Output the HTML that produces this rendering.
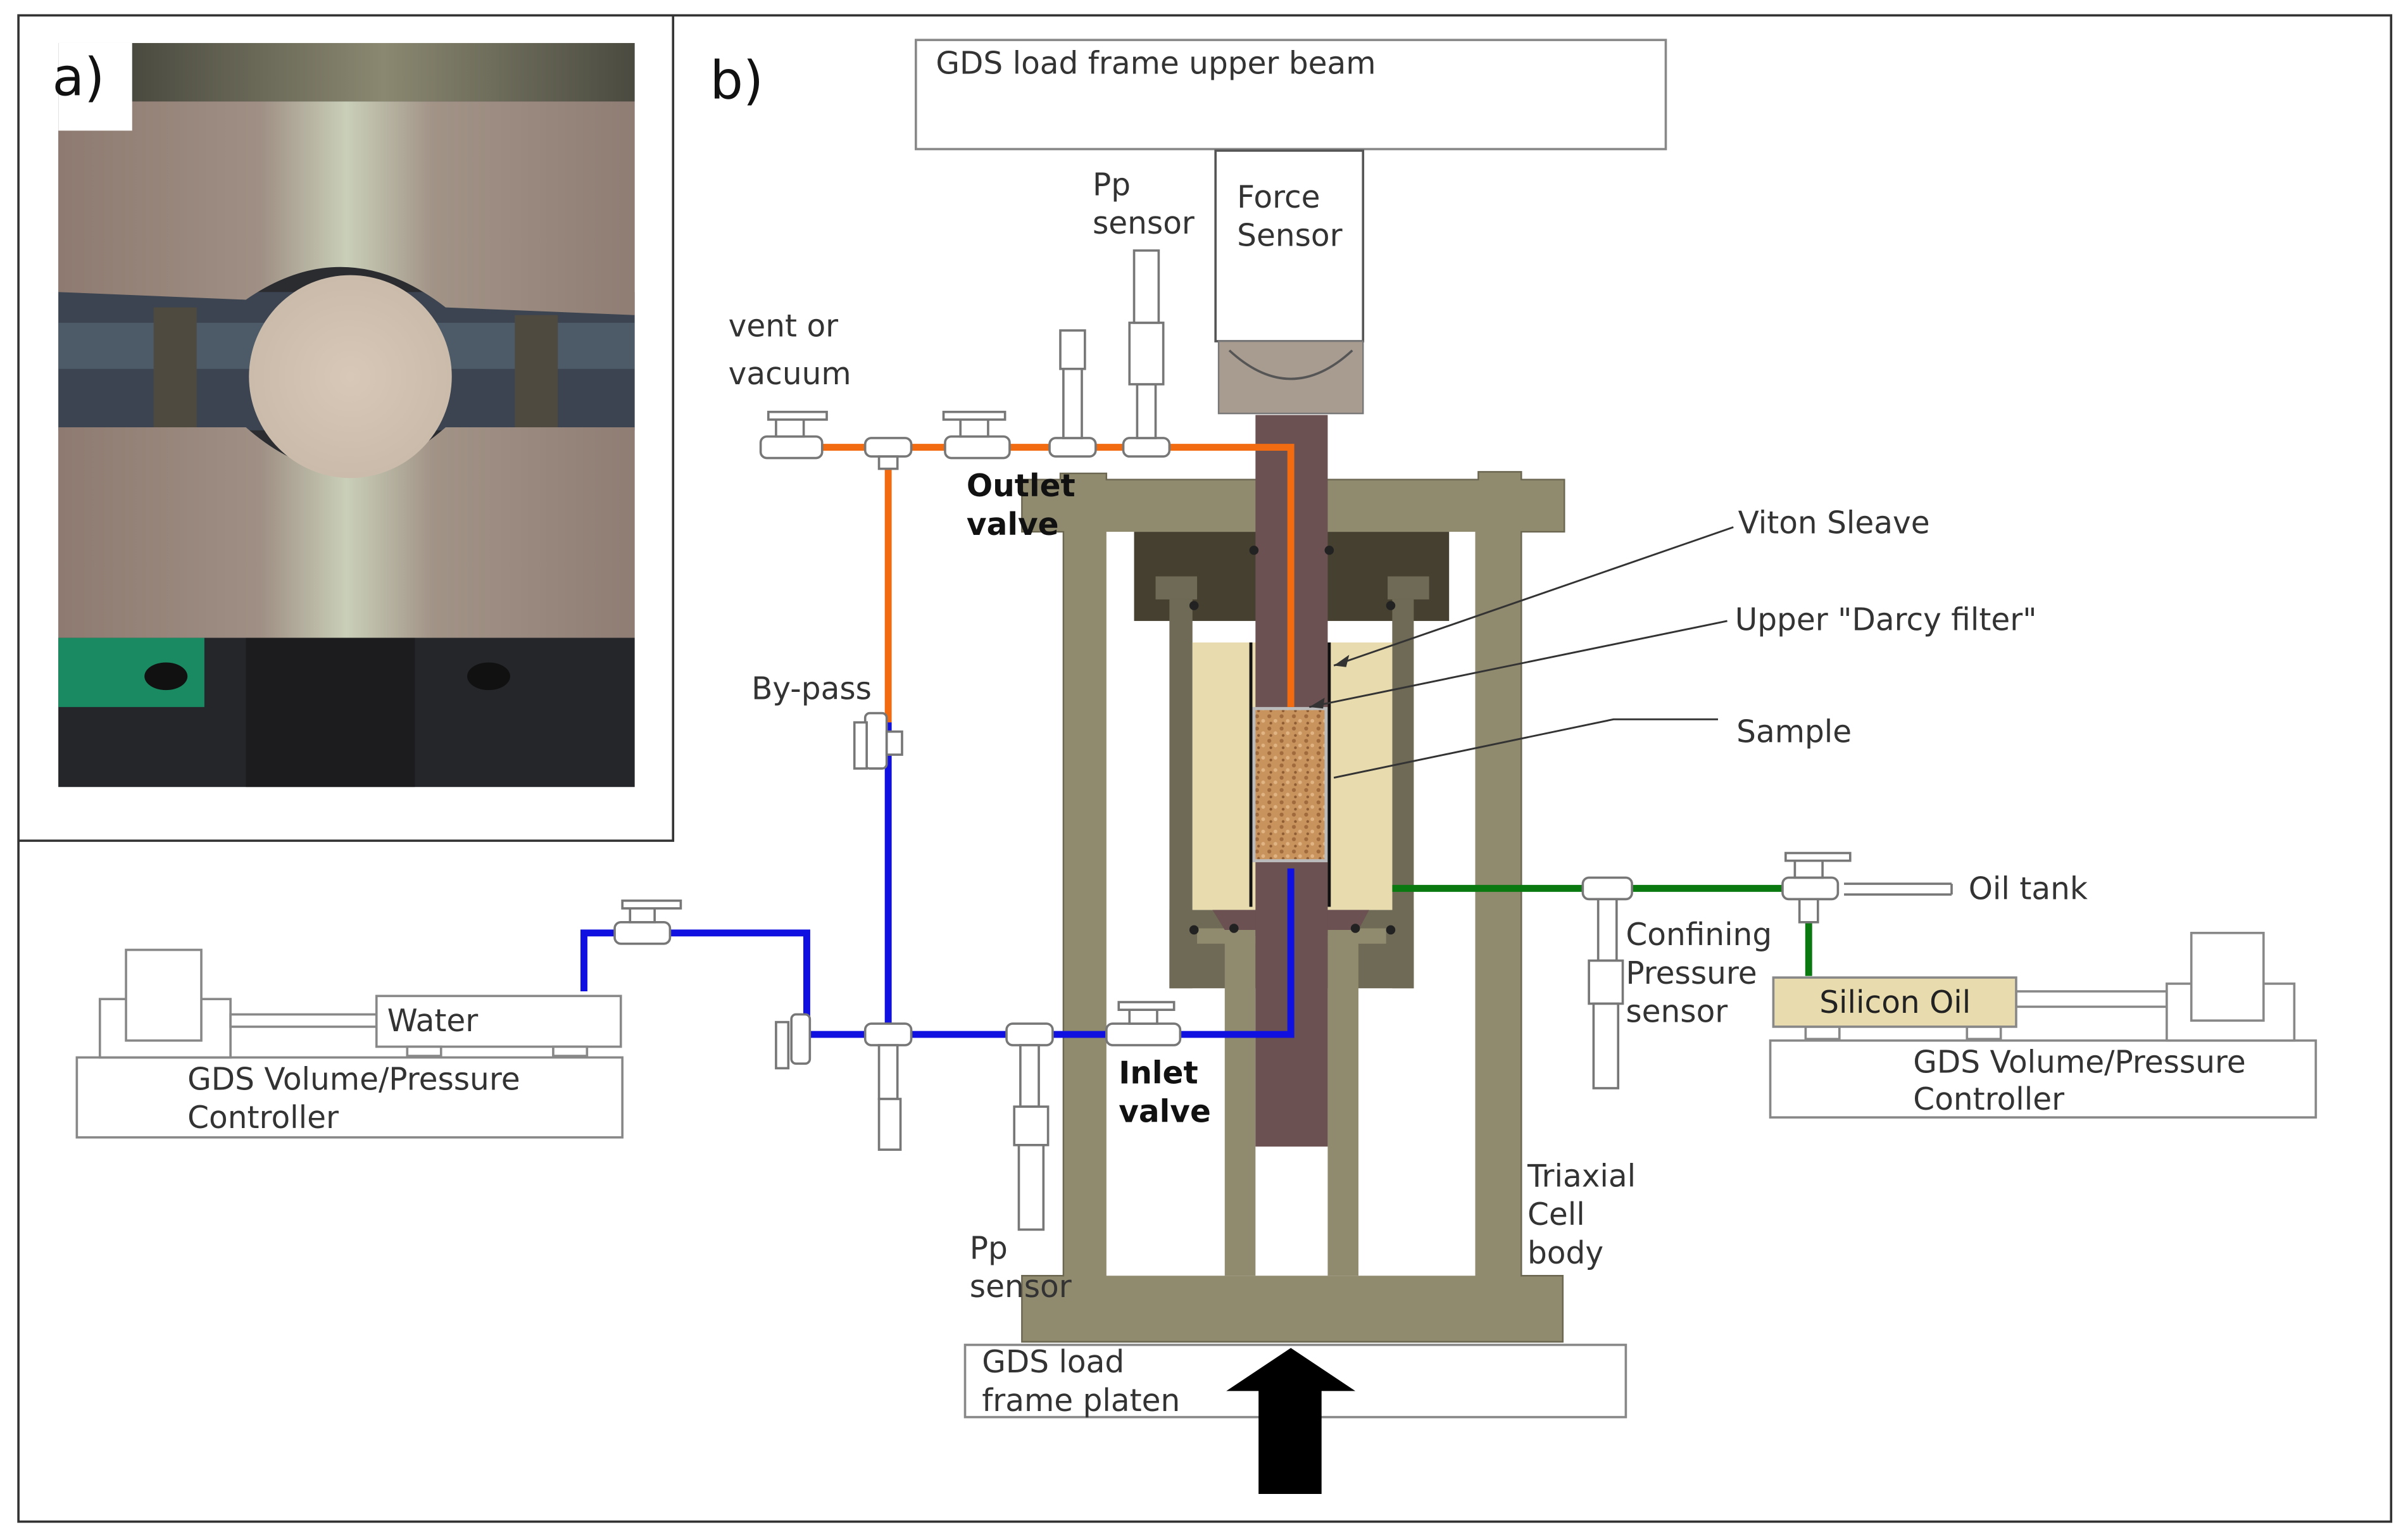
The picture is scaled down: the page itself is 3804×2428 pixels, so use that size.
<!DOCTYPE html>
<html><head><meta charset="utf-8"><style>
html,body{margin:0;padding:0;background:#fff}
svg{display:block}
text{font-family:"DejaVu Sans","Liberation Sans",sans-serif;font-size:20px;fill:#333}
.b{font-weight:bold;fill:#111}
</style></head><body>
<svg width="3804" height="2428" viewBox="0 0 1567 1000" preserveAspectRatio="none" xmlns="http://www.w3.org/2000/svg">
<defs>
<linearGradient id="met" x1="0" x2="1" y1="0" y2="0">
<stop offset="0" stop-color="#8e7a70"/><stop offset="0.35" stop-color="#9f8f84"/><stop offset="0.5" stop-color="#c9cfb8"/><stop offset="0.65" stop-color="#a29387"/><stop offset="1" stop-color="#8f7d74"/>
</linearGradient>
<linearGradient id="top" x1="0" x2="1"><stop offset="0" stop-color="#4a4a40"/><stop offset="0.5" stop-color="#8a8870"/><stop offset="1" stop-color="#4a4a40"/></linearGradient>
<radialGradient id="smp" cx="0.5" cy="0.5" r="0.6"><stop offset="0" stop-color="#d8c8b8"/><stop offset="1" stop-color="#c8b8a8"/></radialGradient>
<pattern id="sand" width="8" height="8" patternUnits="userSpaceOnUse"><rect width="8" height="8" fill="#c9935e"/><circle cx="2" cy="2" r="1.3" fill="#a06a3c"/><circle cx="6" cy="5" r="1.2" fill="#e0b583"/><circle cx="3" cy="6.5" r="0.9" fill="#8e5c33"/></pattern>
</defs>
<rect x="12" y="10" width="1544" height="980" fill="none" stroke="#333" stroke-width="1.5"/>
<path d="M438 10 V547 H12" fill="none" stroke="#333" stroke-width="1.5"/>
<!-- photo -->
<rect x="38" y="28" width="375" height="484" fill="#2a2c30"/>
<rect x="86" y="28" width="327" height="38" fill="url(#top)"/>
<rect x="38" y="190" width="375" height="90" fill="#3b4450"/>
<rect x="38" y="210" width="375" height="30" fill="#5a6a78" opacity="0.6"/>
<rect x="100" y="200" width="28" height="80" fill="#4f4a40"/>
<rect x="335" y="205" width="28" height="75" fill="#4f4a40"/>
<path d="M38 66 H413 V205 L290 200 Q225 150 160 195 L38 190 Z" fill="url(#met)"/>
<path d="M38 278 H413 V415 H38 Z M160 278 Q225 335 290 278 Z" fill="url(#met)" fill-rule="evenodd"/>
<rect x="38" y="415" width="375" height="97" fill="#25262a"/>
<rect x="38" y="415" width="95" height="45" fill="#1a8a62"/>
<rect x="160" y="415" width="110" height="97" fill="#1c1c1e"/>
<ellipse cx="108" cy="440" rx="14" ry="9" fill="#111"/><ellipse cx="318" cy="440" rx="14" ry="9" fill="#111"/>
<ellipse cx="228" cy="245" rx="66" ry="66" fill="url(#smp)"/>
<rect x="38" y="28" width="48" height="57" fill="#fff"/>
<text x="34" y="62" style="font-size:34px;fill:#111">a)</text>
<text x="462" y="64" style="font-size:34px;fill:#111">b)</text>
<!-- upper beam -->
<rect x="596" y="26" width="488" height="71" fill="#fff" stroke="#888" stroke-width="1.5"/>
<text x="609" y="48">GDS load frame upper beam</text>
<rect x="791" y="98" width="96" height="124" fill="#fff" stroke="#555" stroke-width="1.5"/>
<text x="805" y="135">Force</text><text x="805" y="160">Sensor</text>
<rect x="793" y="222" width="94" height="47" fill="#a89b90" stroke="#777"/>
<path d="M800 228 Q840 265 880 228" fill="none" stroke="#555" stroke-width="1.5"/>
<!-- cell body -->
<path fill="#908a6e" stroke="#6a6650" stroke-width="1" d="M665 312 H690 V308 H720 V312 H962 V307 H990 V312 H1018 V346 H990 V830 H1017 V873 H665 V830 H692 V346 H665 Z"/>
<rect x="720" y="346" width="240" height="484" fill="#fff"/>
<rect x="738" y="346" width="205" height="58" fill="#45402f"/>
<g fill="#6e6a55">
<rect x="752" y="375" width="27" height="15"/><rect x="761" y="390" width="15" height="253"/>
<rect x="903" y="375" width="27" height="15"/><rect x="906" y="390" width="14" height="253"/>
<rect x="761" y="592" width="159" height="51"/>
</g>
<rect x="776" y="418" width="130" height="174" fill="#e8dcae"/>
<rect x="779" y="604" width="123" height="10" fill="#908a6e"/>
<rect x="797" y="604" width="20" height="226" fill="#908a6e"/>
<rect x="864" y="604" width="20" height="226" fill="#908a6e"/>
<path d="M789 592 H891 L884 605 H864 V609 H817 V605 H797 Z" fill="#6b5152"/>
<rect x="817" y="270" width="47" height="476" fill="#6b5152"/>
<rect x="816" y="461" width="47" height="99" fill="url(#sand)" stroke="#bbb" stroke-width="2"/>
<line x1="814" y1="418" x2="814" y2="590" stroke="#111" stroke-width="2"/>
<line x1="865" y1="418" x2="865" y2="590" stroke="#111" stroke-width="2"/>
<g fill="#222"><circle cx="816" cy="358" r="3"/><circle cx="865" cy="358" r="3"/><circle cx="777" cy="394" r="3"/><circle cx="905" cy="394" r="3"/><circle cx="777" cy="605" r="3"/><circle cx="905" cy="605" r="3"/><circle cx="803" cy="604" r="3"/><circle cx="882" cy="604" r="3"/></g>
<!-- pipes -->
<g fill="none" stroke-width="4.5">
<path d="M500 291 H840 V460" stroke="#f26b10"/>
<path d="M578 291 V470" stroke="#f26b10"/>
<path d="M578 470 V673 M525 673 H840 V565 M380 645 V607 H525 V673" stroke="#1010e0"/>
<path d="M906 578 H1180 M1177 578 V635" stroke="#0a7a10"/>
</g>
<path d="M1200 575 H1270 M1200 582 H1270 M1270 575 V582" stroke="#777" fill="none" stroke-width="1.5"/>
<g fill="#fff" stroke="#777" stroke-width="1.5">
<rect x="495" y="284" width="40" height="14" rx="4"/><rect x="505" y="270" width="18" height="14"/><rect x="500" y="268" width="38" height="5"/>
<rect x="563" y="285" width="30" height="12" rx="4"/><rect x="572" y="297" width="12" height="8"/>
<rect x="615" y="284" width="42" height="14" rx="4"/><rect x="625" y="270" width="18" height="14"/><rect x="614" y="268" width="40" height="5"/>
<rect x="683" y="285" width="30" height="12" rx="4"/><rect x="692" y="230" width="12" height="55"/><rect x="690" y="215" width="16" height="25"/>
<rect x="731" y="285" width="30" height="12" rx="4"/><rect x="740" y="250" width="12" height="35"/><rect x="735" y="210" width="22" height="40"/><rect x="738" y="163" width="16" height="47"/>
<rect x="563" y="464" width="14" height="36" rx="3"/><rect x="556" y="470" width="8" height="30"/><rect x="577" y="476" width="10" height="15"/>
<rect x="400" y="600" width="36" height="14" rx="4"/><rect x="410" y="588" width="16" height="12"/><rect x="405" y="586" width="38" height="5"/>
<rect x="515" y="660" width="12" height="32" rx="3"/><rect x="505" y="665" width="8" height="30"/>
<rect x="563" y="666" width="30" height="14" rx="4"/><rect x="572" y="680" width="12" height="35"/><rect x="572" y="715" width="14" height="33"/>
<rect x="655" y="666" width="30" height="14" rx="4"/><rect x="664" y="680" width="12" height="40"/><rect x="660" y="720" width="22" height="25"/><rect x="663" y="745" width="16" height="55"/>
<rect x="720" y="666" width="48" height="14" rx="4"/><rect x="735" y="655" width="18" height="11"/><rect x="728" y="652" width="36" height="5"/>
<rect x="1030" y="571" width="32" height="14" rx="4"/><rect x="1040" y="585" width="12" height="40"/><rect x="1034" y="625" width="22" height="28"/><rect x="1037" y="653" width="16" height="55"/>
<rect x="1160" y="571" width="36" height="14" rx="4"/><rect x="1168" y="557" width="18" height="14"/><rect x="1162" y="555" width="42" height="5"/><rect x="1171" y="585" width="12" height="15"/>
</g>
<text x="711" y="127">Pp</text><text x="711" y="152">sensor</text>
<text x="474" y="219">vent or</text><text x="474" y="250">vacuum</text>
<text x="629" y="323" class="b">Outlet</text><text x="629" y="348" class="b">valve</text>
<text x="489" y="455">By-pass</text>
<text x="1131" y="347">Viton Sleave</text>
<text x="1129" y="410">Upper "Darcy filter"</text>
<text x="1130" y="483">Sample</text>
<text x="1281" y="585">Oil tank</text>
<text x="1058" y="615">Confining</text><text x="1058" y="640">Pressure</text><text x="1058" y="665">sensor</text>
<text x="728" y="705" class="b">Inlet</text><text x="728" y="730" class="b">valve</text>
<text x="631" y="819">Pp</text><text x="631" y="844">sensor</text>
<text x="994" y="772">Triaxial</text><text x="994" y="797">Cell</text><text x="994" y="822">body</text>
<g stroke="#333" stroke-width="1.2" fill="none">
<line x1="1128" y1="343" x2="868" y2="433"/>
<line x1="1124" y1="404" x2="852" y2="460"/>
<path d="M1118 468 H1050 L868 506"/>
</g>
<path d="M868 433 l10 -7 l-2 8 z M852 460 l10 -6 l-1 7 z" fill="#333"/>
<g fill="#fff" stroke="#888" stroke-width="1.5">
<rect x="50" y="688" width="355" height="52"/>
<rect x="65" y="650" width="85" height="38"/>
<rect x="82" y="618" width="49" height="59"/>
<rect x="150" y="660" width="95" height="8"/>
<rect x="245" y="648" width="159" height="33"/>
<rect x="265" y="681" width="22" height="6"/><rect x="360" y="681" width="22" height="6"/>
<rect x="1152" y="677" width="355" height="50"/>
<rect x="1312" y="645" width="98" height="10"/>
<rect x="1410" y="640" width="83" height="37"/>
<rect x="1426" y="607" width="47" height="57"/>
<rect x="1175" y="668" width="22" height="8"/><rect x="1280" y="668" width="22" height="8"/>
</g>
<rect x="1154" y="636" width="158" height="32" fill="#e8dcae" stroke="#888" stroke-width="1.5"/>
<text x="252" y="671">Water</text>
<text x="122" y="709">GDS Volume/Pressure</text><text x="122" y="734">Controller</text>
<text x="1184" y="659" style="fill:#222">Silicon Oil</text>
<text x="1245" y="698">GDS Volume/Pressure</text><text x="1245" y="722">Controller</text>
<rect x="628" y="875" width="430" height="47" fill="#fff" stroke="#888" stroke-width="1.5"/>
<text x="639" y="893">GDS load</text><text x="639" y="918">frame platen</text>
<path d="M840 877 L882 905 H860 V972 H819 V905 H798 Z" fill="#000"/>
</svg>
</body></html>
